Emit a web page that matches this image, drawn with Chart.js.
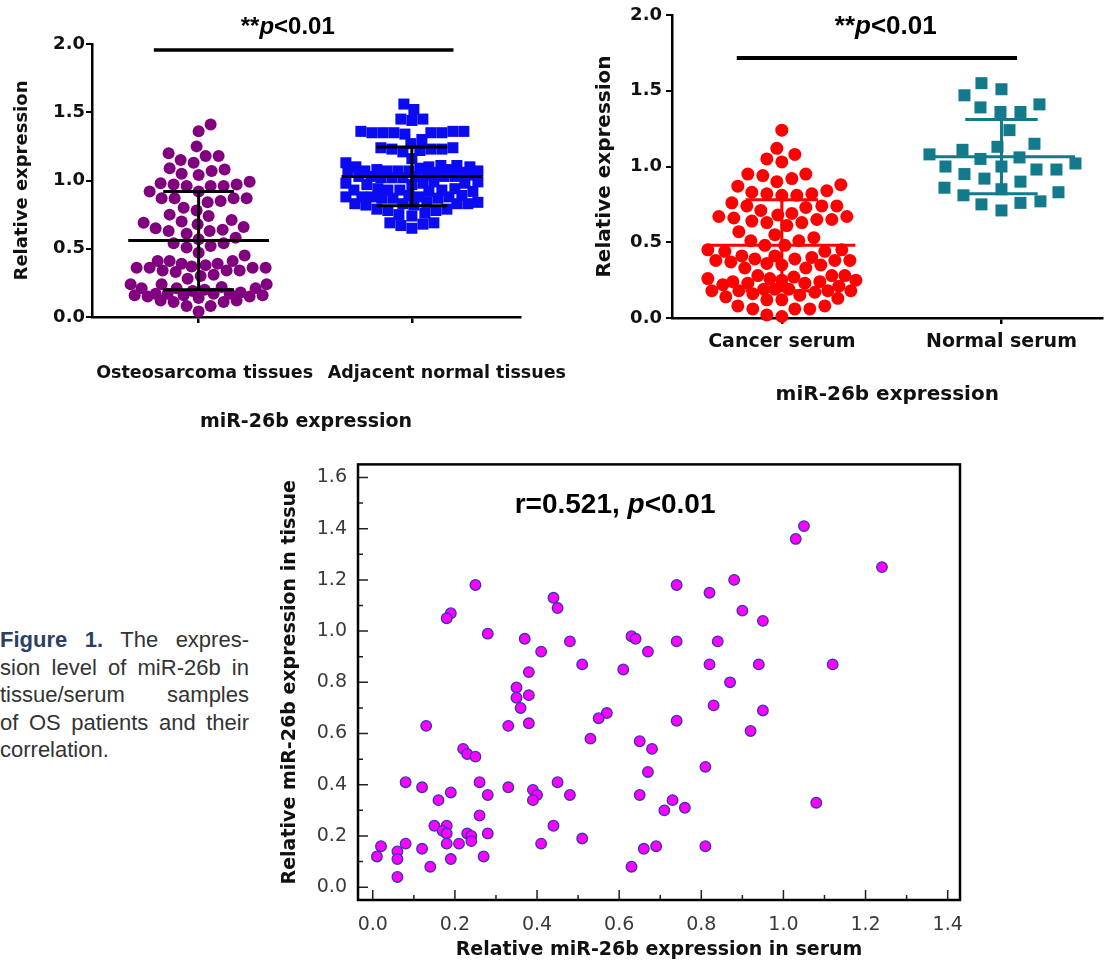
<!DOCTYPE html>
<html lang="en">
<head>
<meta charset="UTF-8">
<title>miR-26b expression in OS tissue and serum</title>
<script src="https://cdn.jsdelivr.net/npm/chart.js"></script>
<style>
  body { margin: 0; background: #fff; width: 1111px; height: 965px; position: relative; overflow: hidden; }
  canvas { position: absolute; }
  #caption { position: absolute; left: 0; top: 626px; width: 249px; font-family: 'Liberation Sans', Arial, sans-serif; font-size: 22px; line-height: 27.5px; color: #333; }
  #caption div { text-align: justify; text-align-last: justify; }
  #caption div.last { text-align-last: left; }
  #caption b { color: #2b3f66; }
</style>
</head>
<body>
<canvas id="tissueChart" width="580" height="440" style="left:0;top:0"></canvas>
<canvas id="serumChart" width="531" height="440" style="left:580px;top:0"></canvas>
<canvas id="corrChart" width="720" height="515" style="left:270px;top:450px"></canvas>
<div id="caption">
  <div><b>Figure 1.</b> The expres-</div>
  <div>sion level of miR-26b in</div>
  <div>tissue/serum samples</div>
  <div>of OS patients and their</div>
  <div class="last">correlation.</div>
</div>
<script>
// paired values of the OS patients (serum, tissue)
const cancerSerum = [1.05,1.03,1.24,0.25,0.74,0.88,0.82,0.44,0.45,0.90,0.19,0.18,0.95,0.28,0.63,0.64,0.37,0.48,0.74,0.84,
  0.41,0.67,0.51,0.82,0.94,1.12,0.61,0.38,0.87,0.35,0.35,0.38,0.83,0.36,0.95,0.57,0.55,0.74,0.13,0.33,
  0.38,0.92,0.53,0.65,0.68,0.22,0.23,0.25,0.81,0.67,0.08,0.26,0.45,0.12,0.33,0.39,0.19,0.28,0.40,0.48,
  0.65,0.39,0.16,0.73,1.08,0.76,0.71,0.26,0.15,0.18,0.44,0.17,0.18,0.23,0.28,0.24,0.51,0.24,0.18,0.21,
  0.08,0.41,0.02,0.69,0.81,0.12,0.66,0.06,0.01,0.27,0.06,0.19,0.14,0.63,0.06];
const cancerTissue = [1.41,1.36,1.25,1.18,1.18,1.20,1.15,1.13,1.09,1.08,1.07,1.05,1.04,0.99,0.98,0.97,0.97,0.96,0.96,0.96,
  0.92,0.92,0.87,0.87,0.87,0.87,0.85,0.84,0.80,0.78,0.74,0.75,0.71,0.70,0.69,0.68,0.66,0.65,0.63,0.63,
  0.64,0.61,0.58,0.57,0.54,0.54,0.52,0.51,0.47,0.45,0.41,0.41,0.41,0.39,0.39,0.38,0.37,0.36,0.36,0.36,
  0.36,0.34,0.34,0.34,0.33,0.31,0.30,0.28,0.24,0.24,0.24,0.22,0.21,0.21,0.21,0.20,0.19,0.18,0.17,0.17,
  0.17,0.17,0.16,0.16,0.16,0.15,0.15,0.14,0.12,0.12,0.11,0.11,0.08,0.08,0.04];
const normalTissue = [1.56,1.52,1.45,1.45,1.44,
  1.36,1.35,1.35,1.36,1.35,1.34,1.36,1.35,1.35,1.30,1.27,
  1.24,1.23,1.22,1.23,1.24,1.21,1.23,1.16,1.13,
  1.11,1.10,1.10,1.09,1.11,1.10,
  1.08,1.07,1.07,1.06,1.07,1.08,1.06,1.07,1.07,1.06,
  1.04,1.03,1.03,1.02,1.03,1.04,1.02,1.03,1.03,1.02,
  0.98,0.99,0.97,0.98,0.98,0.97,0.99,
  0.93,0.94,0.92,0.93,0.93,0.94,0.92,0.93,
  0.88,0.87,0.88,0.89,0.87,0.88,0.88,0.87,0.89,0.88,
  0.83,0.84,0.82,0.83,0.83,0.84,0.82,0.83,
  0.79,0.78,0.78,0.79,
  0.76,0.75,0.74,0.69,0.69,0.68,0.67,0.65];
const normalSerum = [1.55,1.51,1.47,1.41,1.39,1.36,1.36,1.24,1.15,1.13,1.08,1.11,1.05,1.06,1.02,
  0.98,1.00,0.98,1.00,0.92,0.90,0.95,0.86,0.85,0.83,0.81,0.75,0.76,0.77,0.71];

const tissueCategories = ['Osteosarcoma tissues', 'Adjacent normal tissues'];
const serumCategories = ['Cancer serum', 'Normal serum'];
const tissueMeans = [0.56, 1.03];
const tissueSDs = [0.36, 0.215];
const serumMeans = [0.48, 1.065];
const serumSDs = [0.30, 0.245];
const pLabel = ['**', 'p', '<0.01'];
const corrLabel = ['r=0.521, ', 'p', '<0.01'];
const dotYTicks = [0, 0.5, 1.0, 1.5, 2.0];
const corrXTicks = [0, 0.2, 0.4, 0.6, 0.8, 1.0, 1.2, 1.4];
const corrYTicks = [0, 0.2, 0.4, 0.6, 0.8, 1.0, 1.2, 1.4, 1.6];

const DV = "'DejaVu Sans', sans-serif";
const LS = "'Liberation Sans', Arial, sans-serif";

function drawRich(ctx, texts, fonts, cx, cy) {
  let w = 0;
  const widths = texts.map((t, i) => { ctx.font = fonts[i]; const m = ctx.measureText(t).width; w += m; return m; });
  let x0 = cx - w / 2;
  ctx.fillStyle = '#000';
  ctx.textAlign = 'left';
  ctx.textBaseline = 'middle';
  texts.forEach((t, i) => { ctx.font = fonts[i]; ctx.fillText(t, x0, cy); x0 += widths[i]; });
}

// mean +/- SD bars, significance line and label
const dotDecor = {
  id: 'dotDecor',
  afterDatasetsDraw(chart, args, o) {
    const {ctx, chartArea, scales: {x, y}} = chart;
    ctx.save();
    ctx.lineWidth = 3;
    o.means.forEach((m, i) => {
      const cx = x.getPixelForValue(i);
      const mw = x.getPixelForValue(i + o.meanHalf) - cx;
      const cw = x.getPixelForValue(i + o.capHalf) - cx;
      const yM = y.getPixelForValue(m);
      const yU = y.getPixelForValue(m + o.sds[i]);
      const yL = y.getPixelForValue(m - o.sds[i]);
      ctx.strokeStyle = o.barColors[i];
      ctx.beginPath();
      ctx.moveTo(cx - mw, yM); ctx.lineTo(cx + mw, yM);
      ctx.moveTo(cx - cw, yU); ctx.lineTo(cx + cw, yU);
      ctx.moveTo(cx - cw, yL); ctx.lineTo(cx + cw, yL);
      ctx.moveTo(cx, yU); ctx.lineTo(cx, yL);
      ctx.stroke();
    });
    ctx.strokeStyle = '#000';
    ctx.lineWidth = o.sigWidth;
    const sy = y.getPixelForValue(o.sig[2]);
    ctx.beginPath();
    ctx.moveTo(x.getPixelForValue(o.sig[0]), sy);
    ctx.lineTo(x.getPixelForValue(o.sig[1]), sy);
    ctx.stroke();
    const pf = o.pSize + "px " + LS;
    drawRich(ctx, pLabel, ['bold ' + pf, 'italic bold ' + pf, 'bold ' + pf],
      x.getPixelForValue(o.pAt[0]), y.getPixelForValue(o.pAt[1]));
    if (o.catShift) {
      ctx.font = 'bold 17.5px ' + DV;
      ctx.fillStyle = '#111';
      ctx.textAlign = 'center';
      ctx.textBaseline = 'middle';
      tissueCategories.forEach((c, i) => {
        ctx.fillText(c, x.getPixelForValue(i) + o.catShift[i], chartArea.bottom + o.catDy);
      });
    }
    ctx.restore();
  }
};

// beeswarm layout in pixels, returns x offsets
function swarm(pys, gap, half) {
  const order = pys.map((_, i) => i).sort((a, b) => pys[b] - pys[a]);
  const placed = [];
  const out = new Array(pys.length);
  let flip = false;
  for (const i of order) {
    const py = pys[i];
    const near = placed.filter(p => Math.abs(p.y - py) < gap);
    const minDist = ox => near.reduce((m, p) => Math.min(m, Math.hypot(p.x - ox, p.y - py)), Infinity);
    let pick = null;
    for (let k = 0; k <= half && pick === null; k++) {
      const cands = k === 0 ? [0] : (flip ? [-k, k] : [k, -k]);
      for (const c of cands) { if (minDist(c) >= gap) { pick = c; break; } }
    }
    if (pick === null) {
      let best = -1;
      for (let c = -half; c <= half; c++) {
        const d = minDist(c);
        if (d > best + 0.01 || (Math.abs(d - best) < 0.01 && Math.abs(c) < Math.abs(pick))) { best = d; pick = c; }
      }
    }
    flip = !flip;
    placed.push({x: pick, y: py});
    out[i] = pick;
  }
  return out;
}

function layoutSwarm(chart, gaps, halves) {
  const xs = chart.scales.x, ys = chart.scales.y;
  chart.data.datasets.forEach((ds, gi) => {
    const offs = swarm(ds.data.map(p => ys.getPixelForValue(p.y)), gaps[gi], halves[gi]);
    const cx = xs.getPixelForValue(gi);
    ds.data.forEach((p, k) => { p.x = xs.getValueForPixel(cx + offs[k]); });
  });
  chart.update('none');
}

function dotAxis(cfg) {
  return {
    x: {
      type: 'linear', min: -0.5, max: cfg.xMax,
      afterBuildTicks: s => { s.ticks = [{value: 0}, {value: 1}]; },
      afterFit: s => { s.height = cfg.xHeight; },
      border: {color: '#000', width: 2.5},
      grid: {drawOnChartArea: false, drawTicks: true, tickLength: 6, color: '#000', lineWidth: 2.5},
      ticks: cfg.xTicks,
      title: {display: true, text: 'miR-26b expression', color: '#111',
        font: {family: DV, weight: 'bold', size: cfg.titleSize}, padding: {top: 0, bottom: cfg.xTitlePad}}
    },
    y: {
      type: 'linear', min: 0, max: 2,
      afterBuildTicks: s => { s.ticks = dotYTicks.map(v => ({value: v})); },
      afterFit: s => { s.width = 92; },
      border: {color: '#000', width: 2.5},
      grid: {drawOnChartArea: false, drawTicks: true, tickLength: 6, color: '#000', lineWidth: 2},
      ticks: {padding: cfg.yPad, color: '#111', font: {family: DV, weight: 'bold', size: 18}, callback: v => v.toFixed(1)},
      title: {display: true, text: 'Relative expression', color: '#111',
        font: {family: DV, weight: 'bold', size: cfg.yTitleSize}, padding: {top: cfg.yTitlePad, bottom: 0}}
    }
  };
}

const base = {responsive: false, animation: false, devicePixelRatio: 1};

const tissueChart = new Chart(document.getElementById('tissueChart'), {
  type: 'scatter',
  data: {
    datasets: [
      {data: cancerTissue.map(v => ({x: 0, y: v})), pointStyle: 'circle', pointRadius: 6,
        backgroundColor: '#800080', borderWidth: 0, clip: false},
      {data: normalTissue.map(v => ({x: 1, y: v})), pointStyle: 'rect', pointRadius: 7.8,
        backgroundColor: '#0b0bf2', borderWidth: 0, clip: false}
    ]
  },
  options: {
    ...base,
    layout: {padding: {left: 0, top: 44, right: 60, bottom: 0}},
    plugins: {
      legend: {display: false}, tooltip: {enabled: false},
      dotDecor: {means: tissueMeans, sds: tissueSDs, barColors: ['#000', '#000'], meanHalf: 0.33, capHalf: 0.166,
        sig: [-0.21, 1.195, 1.956], sigWidth: 3.5, pAt: [0.418, 2.12], pSize: 24, catShift: [6, 35], catDy: 56}
    },
    scales: dotAxis({xMax: 1.507, xHeight: 123, xTicks: {display: false}, titleSize: 19, xTitlePad: 7,
      yPad: 1, yTitleSize: 18, yTitlePad: 12})
  },
  plugins: [dotDecor]
});
layoutSwarm(tissueChart, [13, 11], [68, 66]);

const serumChart = new Chart(document.getElementById('serumChart'), {
  type: 'scatter',
  data: {
    datasets: [
      {data: cancerSerum.map(v => ({x: 0, y: v})), pointStyle: 'circle', pointRadius: 6.5,
        backgroundColor: '#ff0000', borderWidth: 0, clip: false},
      {data: normalSerum.map(v => ({x: 1, y: v})), pointStyle: 'rect', pointRadius: 8.5,
        backgroundColor: '#137a8c', borderWidth: 0, clip: false}
    ]
  },
  options: {
    ...base,
    layout: {padding: {left: 0, top: 15, right: 0, bottom: 0}},
    plugins: {
      legend: {display: false}, tooltip: {enabled: false},
      dotDecor: {means: serumMeans, sds: serumSDs, barColors: ['#ff0000', '#137a8c'], meanHalf: 0.335, capHalf: 0.165,
        sig: [-0.205, 1.071, 1.716], sigWidth: 4, pAt: [0.473, 1.92], pSize: 26}
    },
    scales: dotAxis({xMax: 1.46, xHeight: 122, titleSize: 20, xTitlePad: 33, yPad: 4, yTitleSize: 20, yTitlePad: 13,
      xTicks: {padding: 7, color: '#111', font: {family: DV, weight: 'bold', size: 19}, callback: v => serumCategories[v]}})
  },
  plugins: [dotDecor]
});
layoutSwarm(serumChart, [14.5, 20], [74, 74]);

// frame, inner ticks and r label of the correlation plot
const corrDecor = {
  id: 'corrDecor',
  afterDraw(chart, args, o) {
    const {ctx, chartArea: a, scales: {x, y}} = chart;
    ctx.save();
    ctx.strokeStyle = '#222';
    ctx.lineWidth = 1.5;
    ctx.beginPath();
    corrXTicks.forEach((v, i) => {
      const px = x.getPixelForValue(v);
      ctx.moveTo(px, a.bottom); ctx.lineTo(px, a.bottom - 10);
      if (i > 0) {
        const mx = x.getPixelForValue((v + corrXTicks[i - 1]) / 2);
        ctx.moveTo(mx, a.bottom); ctx.lineTo(mx, a.bottom - 5);
      }
    });
    corrYTicks.forEach((v, i) => {
      const py = y.getPixelForValue(v);
      ctx.moveTo(a.left, py); ctx.lineTo(a.left + 10, py);
      if (i > 0) {
        const my = y.getPixelForValue((v + corrYTicks[i - 1]) / 2);
        ctx.moveTo(a.left, my); ctx.lineTo(a.left + 5, my);
      }
    });
    ctx.stroke();
    ctx.strokeStyle = '#000';
    ctx.lineWidth = 2.5;
    ctx.strokeRect(a.left, a.top, a.right - a.left, a.bottom - a.top);
    const f = "28px " + LS;
    drawRich(ctx, corrLabel, ['bold ' + f, 'italic bold ' + f, 'bold ' + f],
      x.getPixelForValue(o.at[0]), y.getPixelForValue(o.at[1]));
    ctx.restore();
  }
};

new Chart(document.getElementById('corrChart'), {
  type: 'scatter',
  data: {
    datasets: [{
      data: cancerSerum.map((v, i) => ({x: v, y: cancerTissue[i]})),
      pointStyle: 'circle', pointRadius: 5.3, backgroundColor: '#ff00ff',
      borderColor: '#3535b0', borderWidth: 1.3, clip: false
    }]
  },
  options: {
    ...base,
    layout: {padding: {left: 0, top: 11, right: 30, bottom: 0}},
    plugins: {legend: {display: false}, tooltip: {enabled: false}, corrDecor: {at: [0.59, 1.493]}},
    scales: {
      x: {
        type: 'linear', min: -0.036, max: 1.43,
        afterBuildTicks: s => { s.ticks = corrXTicks.map(v => ({value: v})); },
        afterFit: s => { s.height = 65; },
        grid: {display: false}, border: {display: false},
        ticks: {padding: 6, color: '#3a3a3a', font: {family: DV, size: 19}, callback: v => v.toFixed(1)},
        title: {display: true, text: 'Relative miR-26b expression in serum', color: '#111',
          font: {family: DV, weight: 'bold', size: 19}, padding: {top: 0, bottom: 3.6}}
      },
      y: {
        type: 'linear', min: -0.05, max: 1.651,
        afterBuildTicks: s => { s.ticks = corrYTicks.map(v => ({value: v})); },
        afterFit: s => { s.width = 88; },
        grid: {display: false}, border: {display: false},
        ticks: {padding: 3, color: '#3a3a3a', font: {family: DV, size: 19}, callback: v => v.toFixed(1)},
        title: {display: true, text: 'Relative miR-26b expression in tissue', color: '#111',
          font: {family: DV, weight: 'bold', size: 19}, padding: {top: 8.6, bottom: 0}}
      }
    }
  },
  plugins: [corrDecor]
});
</script>
</body>
</html>
